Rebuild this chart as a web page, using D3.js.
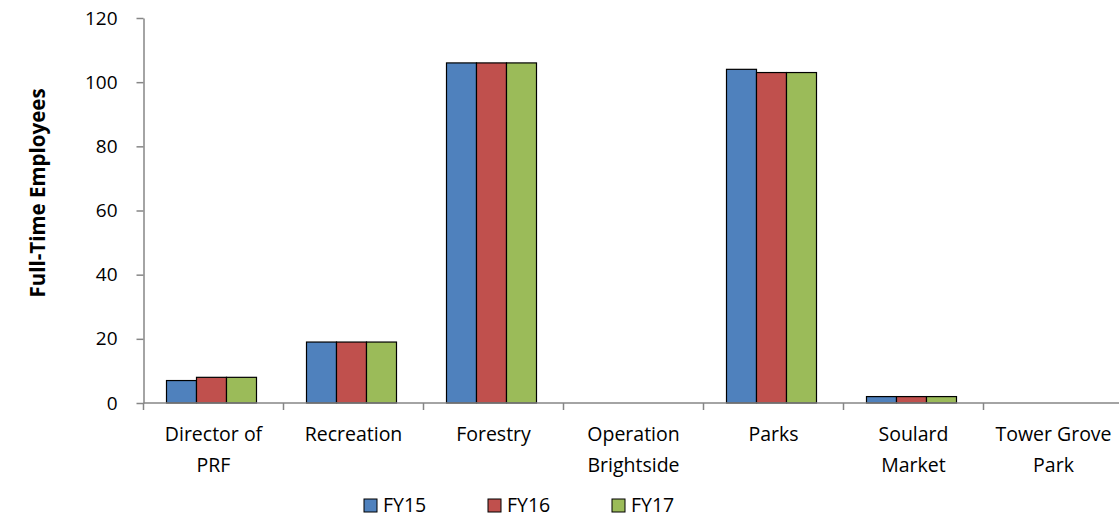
<!DOCTYPE html>
<html>
<head>
<meta charset="utf-8">
<script src="https://cdn.jsdelivr.net/npm/d3@7"></script>
<style>
  html, body { margin: 0; padding: 0; background: #fff; }
  svg { display: block; font-family: "Open Sans", "Noto Sans", sans-serif; }
</style>
</head>
<body>
<svg id="chart" width="1119" height="518"></svg>
<script>
// Full-time employees by division, three fiscal years
const categories = [
  ["Director of", "PRF"],
  ["Recreation"],
  ["Forestry"],
  ["Operation", "Brightside"],
  ["Parks"],
  ["Soulard", "Market"],
  ["Tower Grove", "Park"]
];
const series = ["FY15", "FY16", "FY17"];
const fy15 = [7, 19, 106, 0, 104, 2, 0];
const fy16 = [8, 19, 106, 0, 103, 2, 0];
const fy17 = [8, 19, 106, 0, 103, 2, 0];
const yTicks = [0, 20, 40, 60, 80, 100, 120];
const colors = ["#4F81BD", "#C0504D", "#9BBB59"];

const values = [fy15, fy16, fy17];
const catKeys = categories.map(c => c.join(" "));

const svg = d3.select("#chart");
const plot = { left: 143.5, right: 1123.5, top: 18, bottom: 403 };
const axisColor = "#868686";

const x0 = d3.scaleBand().domain(catKeys).range([plot.left, plot.right]).padding(0);
const x1 = d3.scaleBand().domain(series).range([23, 113]).padding(0);
const y = d3.scaleLinear().domain([0, 120]).range([plot.bottom, plot.top]);

// Bars
const groups = svg.append("g").selectAll("g")
  .data(catKeys)
  .join("g")
  .attr("transform", d => `translate(${x0(d)},0)`);

groups.selectAll("rect")
  .data((d, i) => series.map((s, k) => ({ s, v: values[k][i], k })))
  .join("rect")
  .filter(d => d.v > 0)
  .attr("x", d => x1(d.s))
  .attr("y", d => y(d.v))
  .attr("width", x1.bandwidth())
  .attr("height", d => y(0) - y(d.v))
  .attr("fill", d => colors[d.k])
  .attr("stroke", "#000")
  .attr("stroke-width", 1.2);

// Y axis
const yAxis = svg.append("g")
  .attr("transform", `translate(${plot.left},0)`)
  .call(d3.axisLeft(y).tickValues(yTicks).tickSize(7).tickPadding(19).tickSizeOuter(0));
yAxis.select(".domain").attr("stroke", axisColor).attr("stroke-width", 1.5);
yAxis.selectAll(".tick line").attr("stroke", axisColor).attr("stroke-width", 1.5);
yAxis.selectAll(".tick text")
  .attr("fill", "#000")
  .style("font-size", "19px")
  .style("font-family", '"Open Sans", sans-serif');

// X axis with tick marks at category boundaries
const xAxisG = svg.append("g");
xAxisG.append("line")
  .attr("x1", plot.left).attr("x2", plot.right)
  .attr("y1", y(0)).attr("y2", y(0))
  .attr("stroke", axisColor).attr("stroke-width", 1.5);
const bounds = catKeys.map(k => x0(k)).concat([x0(catKeys[catKeys.length - 1]) + x0.bandwidth()]);
xAxisG.selectAll("line.tick")
  .data(bounds)
  .join("line")
  .attr("class", "tick")
  .attr("x1", d => d).attr("x2", d => d)
  .attr("y1", y(0)).attr("y2", y(0) + 7)
  .attr("stroke", axisColor).attr("stroke-width", 1.5);

// Category labels (wrapped to two lines where needed)
const labels = xAxisG.selectAll("text.cat")
  .data(categories)
  .join("text")
  .attr("class", "cat")
  .attr("text-anchor", "middle")
  .attr("fill", "#000")
  .style("font-size", "19.5px")
  .attr("x", (d, i) => x0(catKeys[i]) + x0.bandwidth() / 2)
  .attr("y", 441);
labels.selectAll("tspan")
  .data(d => d)
  .join("tspan")
  .attr("x", function () { return d3.select(this.parentNode).attr("x"); })
  .attr("dy", (d, i) => i === 0 ? 0 : 31)
  .text(d => d);

// Y axis title
svg.append("text")
  .attr("transform", `translate(45,193) rotate(-90)`)
  .attr("text-anchor", "middle")
  .attr("font-weight", "bold")
  .attr("fill", "#000")
  .style("font-size", "20.5px")
  .text("Full-Time Employees");

// Legend
const legend = svg.append("g").attr("transform", "translate(364,499)");
const item = legend.selectAll("g")
  .data(series)
  .join("g")
  .attr("transform", (d, i) => `translate(${i * 124},0)`);
item.append("rect")
  .attr("width", 13).attr("height", 13)
  .attr("fill", (d, i) => colors[i])
  .attr("stroke", "#000").attr("stroke-width", 1);
item.append("text")
  .attr("x", 19).attr("y", 13)
  .attr("fill", "#000")
  .style("font-size", "19.5px")
  .text(d => d);
</script>
</body>
</html>
